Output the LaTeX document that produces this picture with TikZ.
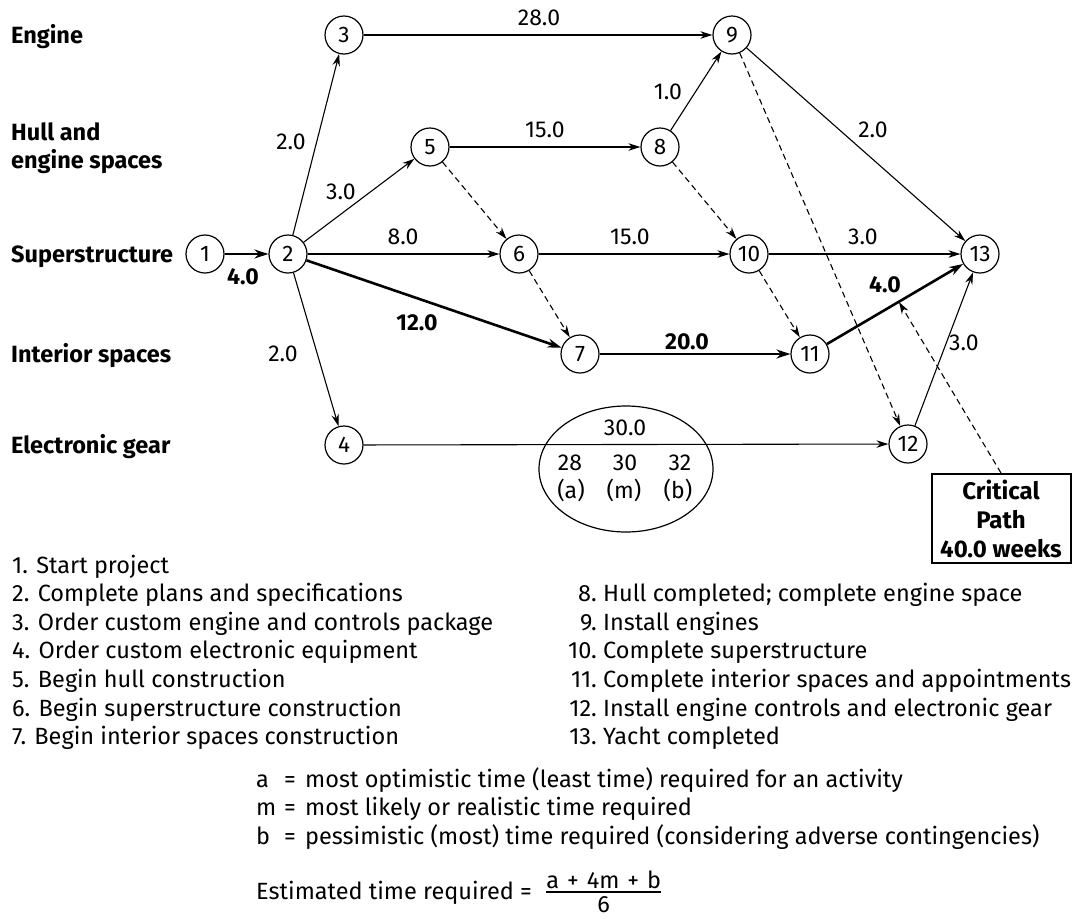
\documentclass[tikz,border=0pt]{standalone}
\usepackage{fontspec}
\setmainfont{Fira Sans}
\usetikzlibrary{arrows.meta,shapes.geometric}
\begin{document}
\begin{tikzpicture}[x=1pt,y=-1pt,
  ev/.style={circle,draw,line width=1.2pt,minimum size=38pt,inner sep=0pt,font=\fontsize{22.5}{24}\selectfont},
  act/.style={line width=1.1pt,-{Stealth[length=12pt,width=7.5pt]}},
  crit/.style={line width=2.6pt,-{Stealth[length=14pt,width=9pt]}},
  dum/.style={line width=1.1pt,dash pattern=on 6pt off 4pt,-{Stealth[length=12pt,width=7.5pt]}},
  lane/.style={inner sep=0pt,font=\fontsize{23.5}{28}\selectfont\bfseries,align=left},
  lab/.style={inner sep=0pt,font=\fontsize{23}{26}\selectfont},
  blab/.style={inner sep=0pt,font=\fontsize{23}{26}\selectfont\bfseries},
  item/.style={anchor=base west,inner sep=0pt,font=\fontsize{23.5}{28}\selectfont},
  itemnum/.style={anchor=base east,inner sep=0pt,font=\fontsize{23.5}{28}\selectfont},
]
\useasboundingbox (0,0) rectangle (1072,919);

% lane labels
\node[lane,anchor=base west] (lEng) at (11,43) {Engine};
\node[lane,anchor=west] (lHull) at (11,148) {Hull and\\engine spaces};
\node[lane,anchor=base west] (lSup) at (11,262) {Superstructure};
\node[lane,anchor=base west] (lInt) at (11,362) {Interior spaces};
\node[lane,anchor=base west] (lEle) at (11,453) {Electronic gear};

% events
\node[ev] (n1) at (205,254) {1};
\node[ev] (n2) at (288,254) {2};
\node[ev] (n3) at (344,35) {3};
\node[ev] (n4) at (344,445) {4};
\node[ev] (n5) at (430,147) {5};
\node[ev] (n6) at (519,254) {6};
\node[ev] (n7) at (580,354) {7};
\node[ev] (n8) at (660,147) {8};
\node[ev] (n9) at (732,35) {9};
\node[ev] (n10) at (749,254) {10};
\node[ev] (n11) at (810,354) {11};
\node[ev] (n12) at (908,444) {12};
\node[ev] (n13) at (980,254) {13};

% ellipse with estimate
\node[draw,ellipse,line width=1.2pt,minimum width=174pt,minimum height=126pt] (ell) at (626,469) {};

% activities
\draw[crit] (n1) -- (n2);
\draw[act] (n2) -- (n3);
\draw[act] (n2) -- (n5);
\draw[act] (n2) -- (n6);
\draw[crit] (n2) -- (n7);
\draw[act] (n2) -- (n4);
\draw[act] (n3) -- (n9);
\draw[act] (n5) -- (n8);
\draw[act] (n8) -- (n9);
\draw[act] (n9) -- (n13);
\draw[act] (n6) -- (n10);
\draw[act] (n10) -- (n13);
\draw[crit] (n7) -- (n11);
\draw[crit] (n11) -- (n13);
\draw[act] (n4) -- (n12);
\draw[act] (n12) -- (n13);
% dummies
\draw[dum] (n5) -- (n6);
\draw[dum] (n6) -- (n7);
\draw[dum] (n8) -- (n10);
\draw[dum] (n10) -- (n11);
\draw[dum] (n9) -- (n12);

% activity times
\node[lab] (t28) at (539,18) {28.0};
\node[lab] (t15a) at (545,130) {15.0};
\node[lab] (t1) at (668,92) {1.0};
\node[lab] (t2c) at (873,130) {2.0};
\node[lab] (t2a) at (291,142) {2.0};
\node[lab] (t3a) at (341,192) {3.0};
\node[lab] (t8) at (403,237) {8.0};
\node[blab] (t4a) at (243,277) {4.0};
\node[lab] (t15b) at (630,237) {15.0};
\node[lab] (t3b) at (863,237) {3.0};
\node[blab] (t4b) at (885,285) {4.0};
\node[blab] (t12) at (417,323) {12.0};
\node[lab] (t2b) at (283,354) {2.0};
\node[blab] (t20) at (687,342) {20.0};
\node[lab] (t3c) at (964,343) {3.0};

% estimate inside ellipse
\node[lab] (e30) at (625,428) {30.0};
\node[lab] (ea) at (570,463) {28};
\node[lab] (em) at (625,463) {30};
\node[lab] (eb) at (680,463) {32};
\node[lab] (pa) at (571,490) {(a)};
\node[lab] (pm) at (624,490) {(m)};
\node[lab] (pb) at (678,490) {(b)};

% critical path box
\node[draw,line width=2pt,minimum width=139pt,minimum height=89pt,inner sep=0pt,align=center,
  font=\fontsize{24}{29}\selectfont\bfseries] (cp) at (1001,518.5) {Critical\\Path\\40.0 weeks};
\coordinate (cpt) at (899,302);
\draw[dum] (cp.north) -- (cpt);

% event list
\node[item] (i1) at (12,573) {1. Start project};
\node[item] (i2) at (12,601.6) {2. Complete plans and specifications};
\node[item] (i3) at (12,630.2) {3. Order custom engine and controls package};
\node[item] (i4) at (12,658.8) {4. Order custom electronic equipment};
\node[item] (i5) at (12,687.4) {5. Begin hull construction};
\node[item] (i6) at (12,716) {6. Begin superstructure construction};
\node[item] (i7) at (12,744.6) {7. Begin interior spaces construction};

\node[itemnum] (k8) at (597,601.6) {8.};
\node[itemnum] (k9) at (597,630.2) {9.};
\node[itemnum] (k10) at (597,658.8) {10.};
\node[itemnum] (k11) at (597,687.4) {11.};
\node[itemnum] (k12) at (597,716) {12.};
\node[itemnum] (k13) at (597,744.6) {13.};
\node[item] (j8) at (603,601.6) {Hull completed; complete engine space};
\node[item] (j9) at (603,630.2) {Install engines};
\node[item] (j10) at (603,658.8) {Complete superstructure};
\node[item] (j11) at (603,687.4) {Complete interior spaces and appointments};
\node[item] (j12) at (603,716) {Install engine controls and electronic gear};
\node[item] (j13) at (603,744.6) {Yacht completed};

% legend
\node[item] (ga) at (256,787) {a};
\node[item] (gm) at (256,815) {m};
\node[item] (gb) at (256,844) {b};
\node[item] (qa) at (284,787) {=};
\node[item] (qm) at (284,815) {=};
\node[item] (qb) at (284,844) {=};
\node[item] (da) at (305,787) {most optimistic time (least time) required for an activity};
\node[item] (dm) at (305,815) {most likely or realistic time required};
\node[item] (db) at (305,844) {pessimistic (most) time required (considering adverse contingencies)};

\node[item] (est) at (256,899) {Estimated time required =};
\node[item] (num) at ([xshift=14pt]est.base east |- 0,888) {a\hspace{8pt}+\hspace{8pt}4m\hspace{8pt}+\hspace{8pt}b};
\node[itemnum,anchor=base] (den) at (num.base |- 0,912) {6};
\draw[line width=1.1pt] (num.west |- 0,892) -- (num.east |- 0,892);
\end{tikzpicture}
\end{document}
